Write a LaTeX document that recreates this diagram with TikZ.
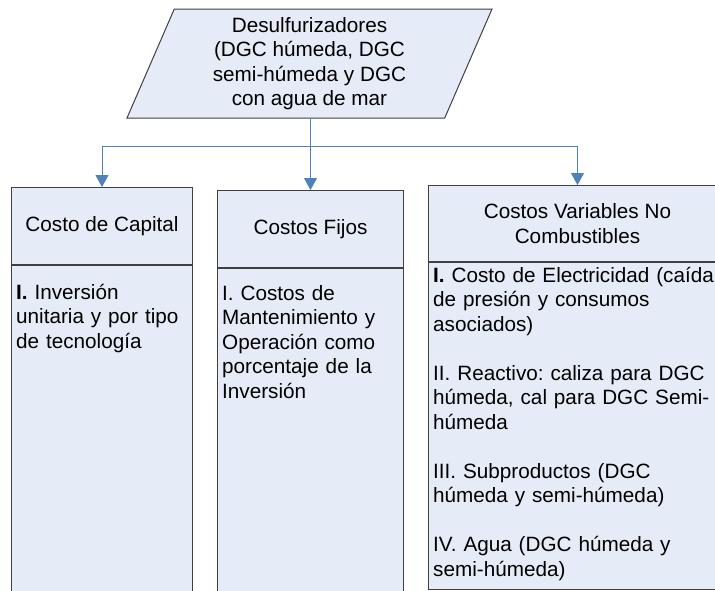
\documentclass[tikz,border=0pt]{standalone}
\usepackage{fontspec}
\setmainfont{Liberation Sans}
\usetikzlibrary{shapes.geometric,arrows.meta,positioning}
\frenchspacing

\definecolor{boxfill}{RGB}{230,236,247}
\definecolor{boxline}{RGB}{64,64,64}
\definecolor{linkblue}{RGB}{79,129,189}

\tikzset{
  box/.style={draw=boxline, fill=boxfill, line width=1pt, inner sep=0pt,
    align=center, font=\fontsize{20.7}{24.5}\selectfont},
  bodytext/.style={inner sep=0pt, align=left, anchor=north west,
    font=\fontsize{20.7}{24.5}\selectfont},
  link/.style={draw=linkblue, line width=1pt},
  arrow/.style={link, -{Triangle[width=13pt,length=12pt]}}
}

\begin{document}
\begin{tikzpicture}[x=1pt,y=-1pt]

    \clip (0,0) rectangle (715,590);
    \fill[white] (0,0) rectangle (715,590);

    % Top
    \node[box, shape=trapezium, trapezium left angle=63, trapezium right angle=117,
      trapezium stretches body, minimum width=365pt, minimum height=109pt]
      (desulf) at (309.5,63.5) {Desulfurizadores\\(DGC húmeda, DGC\\semi-húmeda y DGC\\con agua de mar};

    % Costo de Capital
    \node[box, minimum width=181pt, minimum height=77pt, anchor=north west] (capital) at (11,187) {Costo de Capital};
    \node[box, minimum width=181pt, minimum height=340pt, below=0pt of capital] (capitalbody) {};
    \node[bodytext, text width=175pt] (capitaltext) at ([xshift=5pt,yshift=-19pt]capitalbody.north west)
      {\textbf{I.} Inversión\\unitaria y por tipo\\de tecnología};

    % Costos Fijos
    \node[box, minimum width=186pt, minimum height=77pt, anchor=north west] (fijos) at (217,190) {Costos Fijos};
    \node[box, minimum width=186pt, minimum height=340pt, below=0pt of fijos] (fijosbody) {};
    \node[bodytext, text width=180pt] (fijostext) at ([xshift=5pt,yshift=-17pt]fijosbody.north west)
      {I. Costos de\\Mantenimiento y\\Operación como\\porcentaje de la\\Inversión};

    % Costos Variables
    \node[box, minimum width=298pt, minimum height=76pt, anchor=north west] (variables) at (428,185) {Costos Variables No\\Combustibles};
    \node[box, minimum width=298pt, minimum height=327pt, below=0pt of variables] (variablesbody) {};
    \node[bodytext, text width=290pt] (variablestext) at ([xshift=5pt,yshift=-5pt]variablesbody.north west)
      {\textbf{I.} Costo de Electricidad (caída\\de presión y consumos\\asociados)\\[24.5pt]
       II. Reactivo: caliza para DGC\\húmeda, cal para DGC Semi-\\húmeda\\[24.5pt]
       III. Subproductos (DGC\\húmeda y semi-húmeda)\\[24.5pt]
       IV. Agua (DGC húmeda y\\semi-húmeda)};

    % Links
    \draw[link] (desulf.south -| fijos.north) -- ++(0,28) coordinate (split);
    \draw[arrow] (split) -| (capital.north);
    \draw[arrow] (split) -- (fijos.north);
    \draw[arrow] (split) -| (variables.north);

\end{tikzpicture}
\end{document}
